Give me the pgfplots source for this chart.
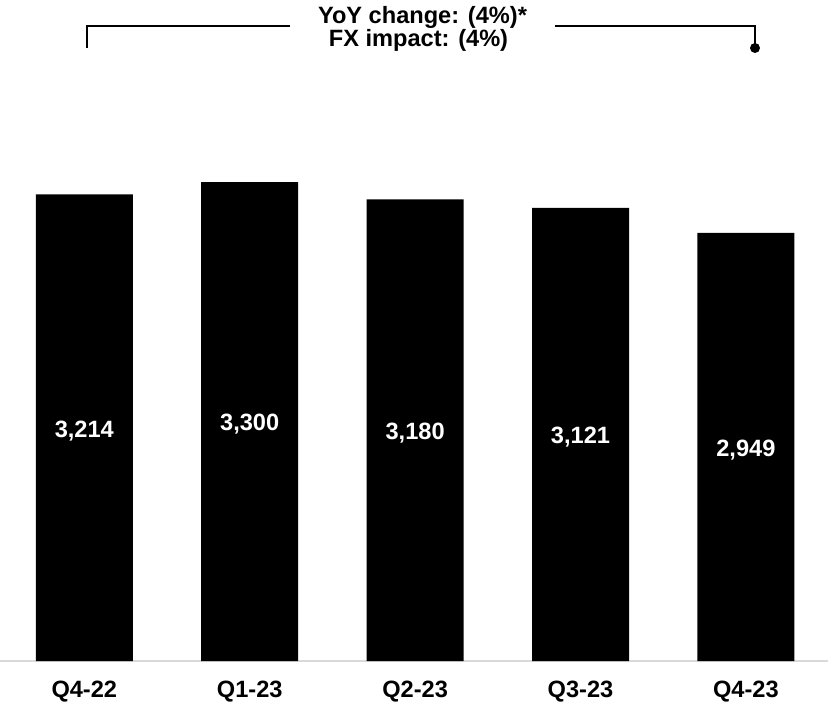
\documentclass[border=0pt]{standalone}
\usepackage{fontspec}
\setmainfont{Liberation Sans}
\usepackage{pgfplots}
\pgfplotsset{compat=1.18}
\definecolor{baseline}{HTML}{D9D9D9}

\begin{document}
\begin{tikzpicture}[font=\fontsize{23.6bp}{26bp}\selectfont\bfseries]
  % page frame: 828 x 703 bp, axis baseline at y = 0
  \useasboundingbox (0bp,-42bp) rectangle (828bp,661bp);
  \begin{axis}[
    at={(0bp,0bp)}, anchor=south west,
    scale only axis,
    width=828bp, height=661bp,
    xmin=-0.5097, xmax=4.4964,
    ymin=0, ymax=4554,
    enlargelimits=false,
    clip=false,
    ybar, bar width=0.5865,
    hide y axis,
    axis x line=bottom,
    axis line style={draw=baseline, line width=2bp, -},
    xtick={0,1,2,3,4},
    xticklabels={Q4-22,Q1-23,Q2-23,Q3-23,Q4-23},
    xtick style={draw=none},
    xticklabel style={anchor=base, yshift=-34bp, font=\fontsize{23.6bp}{26bp}\selectfont\bfseries},
    % value labels sit in the middle of each bar
    visualization depends on={rawy \as \rawy},
    nodes near coords={\pgfmathprintnumber[1000 sep={,}]{\pgfplotspointmeta}},
    nodes near coords style={
      anchor=base, text=white,
      font=\fontsize{23.6bp}{26bp}\selectfont\bfseries,
      /pgf/number format/assume math mode=true,
      yshift={-(0.072576*\rawy+9.5)*1bp}},
  ]
    \addplot[fill=black, draw=none] coordinates {
      (0,3214) (1,3300) (2,3180) (3,3121) (4,2949)
    };
  \end{axis}
  % year-over-year bracket
  \draw[line width=2.3bp] (87bp,613bp) -- (87bp,635bp) -- (290bp,635bp);
  \draw[line width=2.3bp] (555bp,635bp) -- (755bp,635bp) -- (755bp,613bp);
  \fill (755bp,613bp) circle (5bp);
  \node[anchor=base, inner sep=0pt] at (422.5bp,637bp) {YoY change: (4\%)*};
  \node[anchor=base, inner sep=0pt] at (418.5bp,614bp) {FX impact: (4\%)};
\end{tikzpicture}
\end{document}
